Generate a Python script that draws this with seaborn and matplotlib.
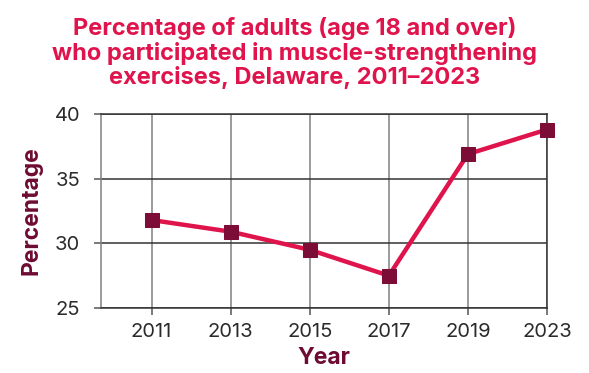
import numpy as np
import pandas as pd
import matplotlib
matplotlib.use("Agg")
import matplotlib.pyplot as plt
import seaborn as sns

years = ["2011", "2013", "2015", "2017", "2019", "2023"]
percentages = [31.8, 30.9, 29.5, 27.5, 36.9, 38.8]
y_ticks = [25, 30, 35, 40]

sns.set_theme(style="white")
plt.rcParams["font.family"] = ["Inter", "DejaVu Sans"]

df = pd.DataFrame({"pos": np.arange(len(years)), "Percentage": percentages})

fig = plt.figure(figsize=(5.89, 3.73), dpi=100)
ax = fig.add_axes([101 / 589, 1 - 308 / 373, (547 - 101) / 589, (308 - 114) / 373])

sns.lineplot(data=df, x="pos", y="Percentage", ax=ax, color="#E0144C", linewidth=3.2,
             marker="s", markersize=9.5, markerfacecolor="#7B0D36",
             markeredgecolor="#7B0D36", zorder=3, clip_on=False)

ax.set_xlim(-0.64, len(years) - 1)
ax.set_ylim(25, 40)
ax.set_xticks(df["pos"])
ax.set_xticklabels(years)
ax.set_yticks(y_ticks)

ax.grid(True, axis="x", color="#808080", linewidth=1.1)
ax.grid(True, axis="y", color="#333333", linewidth=1.1)
ax.set_axisbelow(True)

for side in ["top", "right", "bottom"]:
    ax.spines[side].set_color("#333333")
    ax.spines[side].set_linewidth(1.1)
ax.spines["left"].set_color("#808080")
ax.spines["left"].set_linewidth(1.1)

ax.tick_params(axis="both", which="major", length=5, width=1.1, color="#555555",
               labelsize=14.5, labelcolor="#2B2B2B", bottom=True, left=True)
ax.tick_params(axis="x", pad=6)
ax.tick_params(axis="y", pad=10)

ax.set_xlabel("Year", fontsize=16.5, fontweight="bold", color="#6E0B32", labelpad=4)
ax.set_ylabel("Percentage", fontsize=16.5, fontweight="bold", color="#6E0B32", labelpad=9)

fig.text(0.5, 0.955,
         "Percentage of adults (age 18 and over)\nwho participated in muscle-strengthening\nexercises, Delaware, 2011\u20132023",
         ha="center", va="top", fontsize=17, fontweight="bold", color="#E0144C",
         linespacing=1.1)

fig.savefig("out.png", dpi=100)
